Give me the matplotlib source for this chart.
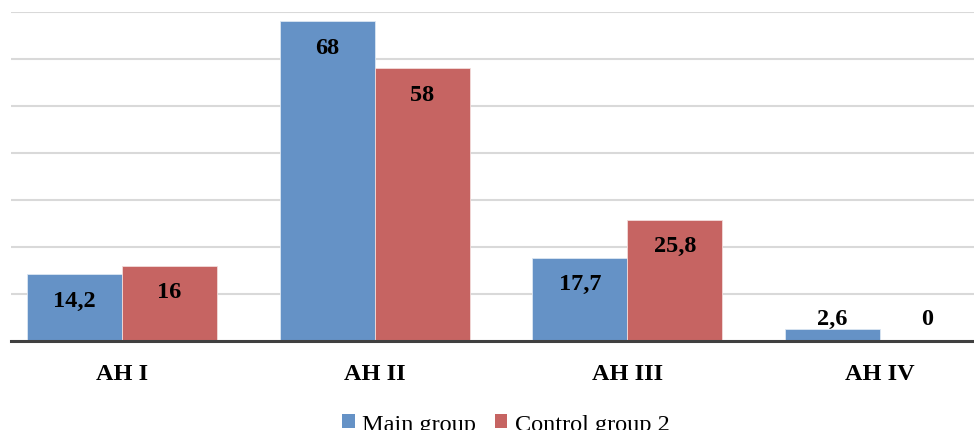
import matplotlib
matplotlib.use("Agg")
import matplotlib.pyplot as plt
from matplotlib.patches import Patch
import numpy as np

categories = ["AH I", "AH II", "AH III", "AH IV"]
main_group = [14.2, 68, 17.7, 2.6]
control_group = [16, 58, 25.8, 0]
series_names = ["Main group", "Control group 2"]

BLUE = "#6592C6"
RED = "#C66462"

plt.rcParams['font.family'] = ['Liberation Serif', 'DejaVu Serif']

fig = plt.figure(figsize=(9.74, 4.31), dpi=100)
W, H = 974, 431
# plot area in pixels: left 11, right 974, baseline 342, top 13
ax = fig.add_axes([11 / W, (H - 342) / H, (974 - 11) / W, (342 - 13) / H])

x = np.arange(len(categories))
bw = 0.376
ax.bar(x - bw / 2, main_group, bw, color=BLUE, edgecolor="#DCE6F2", linewidth=0.6, zorder=3)
ax.bar(x + bw / 2, control_group, bw, color=RED, edgecolor="#F2DCDB", linewidth=0.6, zorder=3)

ax.set_xlim(-0.439, 3.372)
ax.set_ylim(0, 70)
ax.set_yticks(np.arange(0, 71, 10))
ax.yaxis.grid(True, color="#D9D9D9", linewidth=1.5, zorder=0)
ax.tick_params(axis="y", left=False, labelleft=False)
ax.tick_params(axis="x", bottom=False, pad=12)
ax.set_xticks(x)
ax.set_xticklabels(categories, fontsize=17.5, fontweight="bold")
for s in ["top", "right", "left"]:
    ax.spines[s].set_visible(False)
ax.spines["bottom"].set_color("#404040")
ax.spines["bottom"].set_linewidth(2.2)
ax.spines["bottom"].set_zorder(4)


def fmt(v):
    return str(v).replace(".", ",") if v != int(v) else str(int(v))


for xs, vals in [(x - bw / 2, main_group), (x + bw / 2, control_group)]:
    for xi, v in zip(xs, vals):
        ax.text(xi, max(v - 5.5, 4.7), fmt(v), ha="center", va="center",
                fontsize=17.5, fontweight="bold", color="black", zorder=5)

handles = [Patch(facecolor=BLUE, edgecolor="none"), Patch(facecolor=RED, edgecolor="none")]
fig.legend(handles, series_names, loc="upper center", bbox_to_anchor=(506 / W, (H - 405) / H),
           ncol=2, frameon=False, fontsize=17.5, handlelength=0.5, handleheight=0.55,
           handletextpad=0.3, columnspacing=0.8, borderaxespad=0)

fig.savefig("out.png", dpi=100, facecolor="white")
